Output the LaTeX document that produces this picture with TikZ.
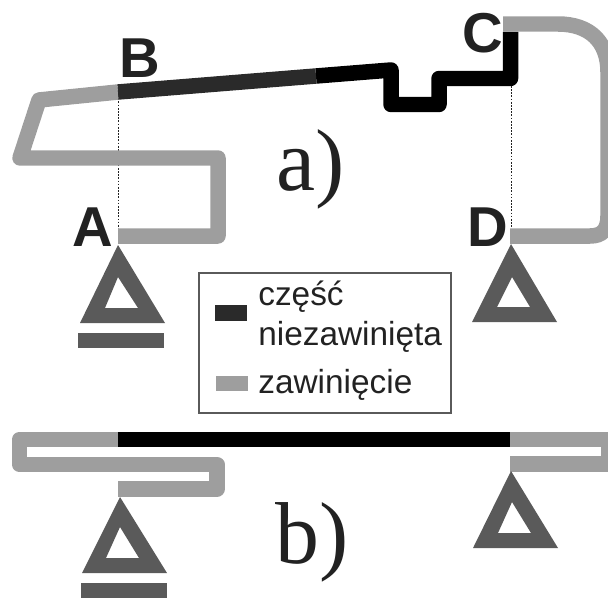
\documentclass[tikz,border=0pt]{standalone}
\usepackage{fontspec}
\setmainfont{Liberation Sans}
\newfontfamily\serifpart{Liberation Serif}
\usetikzlibrary{positioning}
\definecolor{wrapgray}{HTML}{9E9E9E}
\definecolor{supportgray}{HTML}{5A5A5A}
\definecolor{darkpart}{HTML}{2A2A2A}
\definecolor{inkgray}{HTML}{222222}
\tikzset{
  wrapped/.style = {draw = wrapgray, line width = 0.31cm, line join = round},
  unwrapped/.style = {draw = black, line width = 0.31cm, line join = round},
  support/.style = {fill = supportgray, even odd rule},
  guide/.style = {draw = inkgray, line width = 0.5pt, dash pattern = on 1pt off 0.8pt},
  pointname/.style = {text = inkgray, inner sep = 0pt, anchor = base, font = \fontsize{32}{32}\selectfont\bfseries},
  casename/.style = {text = inkgray, inner sep = 0pt, anchor = base, font = \fontsize{50}{50}\selectfont\serifpart},
  legendtext/.style = {text = inkgray, inner sep = 0pt, anchor = base west, font = \fontsize{19}{19}\selectfont}
}

\begin{document}
\begin{tikzpicture}[x = 0.02cm, y = -0.02cm]
    \useasboundingbox (0,0) rectangle (608,598);

    % a)
    \coordinate (A) at (118,236);
    \coordinate (B) at (118,92);
    \coordinate (C) at (503,24);
    \coordinate (D) at (510,236);
    \coordinate (dark end) at (316,76);

    \draw[guide] (B) -- (118,228);
    \draw[guide] (511,86) -- (511,228);

    \draw[wrapped] (A) -- (218,236) -- (218,158) -- (20,158) -- (39,100) -- (B);
    \draw[wrapped] (C) -- (558,24) .. controls (590,24) and (608,42) .. (608,72)
      -- (608,216) .. controls (608,230) and (602,236) .. (590,236) -- (D);
    \draw[unwrapped] (dark end) -- (391,70) -- (391,104.5) -- (439,104.5)
      -- (439,78.5) -- (510.5,78.5) -- (510.5,32);
    \draw[unwrapped, draw = darkpart] (B) -- (dark end);

    \fill[support] (118,245) -- (80,323) -- (165,323) -- cycle
      (118,277) -- (138,308) -- (105,308) -- cycle;
    \fill[supportgray] (78,333) rectangle (164,348);
    \fill[support] (511,244) -- (472,322) -- (557,322) -- cycle
      (512,277) -- (530,307) -- (497,307) -- cycle;

    \node[pointname] (labelA) at (92.5,246) {A};
    \node[pointname] (labelB) at (140,78) {B};
    \node[pointname] (labelC) at (482.5,53) {C};
    \node[pointname] (labelD) at (488,246) {D};
    \node[casename] (casea) at (310.5,190) {a)};

    % legend
    \node[
    draw = supportgray,
    line width = 0.8pt,
    minimum width = 252*0.02cm,
    minimum height = 140*0.02cm,
    inner sep = 0pt
    ] (legend) at (325,343) {};
    \fill[darkpart] (215,305) rectangle (247,321);
    \fill[wrapgray] (216,376) rectangle (248,391);
    \node[legendtext] (part1) at (258,305) {część};
    \node[legendtext] (part2) at (258,345) {niezawinięta};
    \node[legendtext] (part3) at (258,393) {zawinięcie};

    % b)
    \coordinate (A2) at (118,489);
    \coordinate (B2) at (118,439.5);
    \coordinate (C2) at (510,439.5);
    \coordinate (D2) at (510,464);

    \draw[wrapped] (A2) -- (217,489) -- (217,464.5) -- (19.5,464.5) -- (19.5,439.5) -- (B2);
    \draw[wrapped] (C2) -- (608.5,439.5) -- (608.5,464) -- (D2);
    \draw[unwrapped] (B2) -- (C2);

    \fill[support] (120,497) -- (82,573) -- (167,573) -- cycle
      (120,527) -- (139,558) -- (106,558) -- cycle;
    \fill[supportgray] (81,583) rectangle (167,598);
    \fill[support] (511,471) -- (473,548) -- (558,548) -- cycle
      (512,502) -- (531,533) -- (498,533) -- cycle;

    \node[casename] (caseb) at (312,563) {b)};
\end{tikzpicture}
\end{document}
